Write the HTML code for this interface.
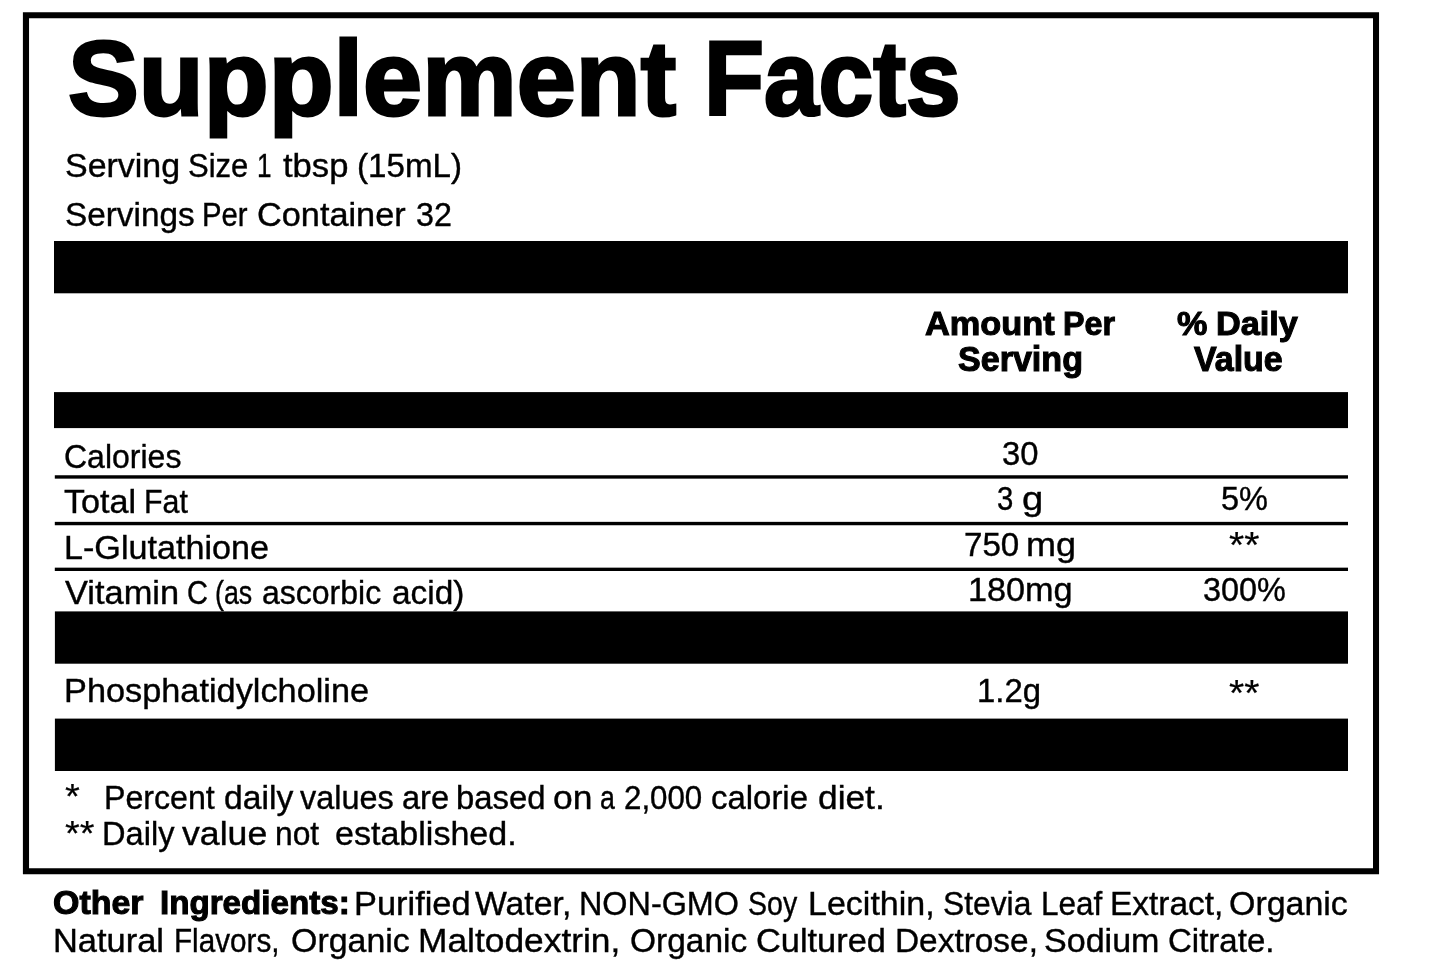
<!DOCTYPE html>
<html lang="en">
<head>
<meta charset="utf-8">
<title>Supplement Facts</title>
<style>
html,body{margin:0;padding:0;background:#fff;}
body{width:1445px;height:973px;position:relative;overflow:hidden;font-family:"Liberation Sans",sans-serif;color:#000;}
.t{position:absolute;white-space:nowrap;line-height:1;transform-origin:0 0;font-weight:400;}
.b .t,.t.b{font-weight:700;}
.ln{position:absolute;left:0;width:0;height:0;margin:0;white-space:nowrap;line-height:1;font-weight:400;-webkit-text-stroke-color:#000;}
.ln.b{font-weight:700;}
.ln span{position:absolute;top:0;transform-origin:0 0;}
.shapes{position:absolute;left:0;top:0;display:block;}
</style>
</head>
<body>
<svg class="shapes" width="1445" height="973" viewBox="0 0 1445 973" aria-hidden="true">
<path fill="#000" fill-rule="evenodd" d="M22.9 12.25H1379.05V874.3H22.9Z M29.05 18.3V868.3H1373V18.3Z"/>
<rect x="54" y="241" width="1294" height="52.3"/>
<rect x="54" y="392.1" width="1294" height="36"/>
<rect x="54.8" y="475.25" width="1293.2" height="3.4"/>
<rect x="54.8" y="521.85" width="1293.2" height="3.4"/>
<rect x="54.8" y="567.65" width="1293.2" height="3.35"/>
<rect x="54.9" y="611.4" width="1293.1" height="52.3"/>
<rect x="54.9" y="718.6" width="1293.1" height="52.4"/>
</svg>
<h1 id="title" class="ln b" style="top:25.82px;font-size:105.73px;-webkit-text-stroke-width:2.96px"><span style="left:67.75px;transform:scaleX(1.0051)">Supplement</span> <span style="left:704.09px;transform:scaleX(0.9289)">Facts</span></h1>
<div id="ss1" class="ln" style="top:150.10px;font-size:32.56px;-webkit-text-stroke-width:0.39px"><span style="left:64.50px;transform:scaleX(1.0432)">Serving</span> <span style="left:187.93px;transform:scaleX(0.9529)">Size</span> <span style="left:256.68px;transform:scaleX(0.8018)">1</span> <span style="left:282.90px;transform:scaleX(1.0628)">tbsp</span> <span style="left:356.92px;transform:scaleX(1.0180)">(15mL)</span></div>
<div id="ss2" class="ln" style="top:198.60px;font-size:32.56px;-webkit-text-stroke-width:0.39px"><span style="left:64.53px;transform:scaleX(1.0239)">Servings</span> <span style="left:201.64px;transform:scaleX(0.9003)">Per</span> <span style="left:257.00px;transform:scaleX(1.0536)">Container</span> <span style="left:415.63px;transform:scaleX(0.9906)">32</span></div>
<div id="h1a" class="ln b" style="top:306.76px;font-size:33.89px;-webkit-text-stroke-width:1.08px"><span style="left:924.66px;transform:scaleX(1.0132)">Amount</span> <span style="left:1063.06px;transform:scaleX(0.9525)">Per</span></div>
<div id="h1b" class="ln b" style="top:341.55px;font-size:34.17px;-webkit-text-stroke-width:1.09px"><span style="left:958.02px;transform:scaleX(0.9974)">Serving</span></div>
<div id="h2a" class="ln b" style="top:306.76px;font-size:33.89px;-webkit-text-stroke-width:1.08px"><span style="left:1177.08px;transform:scaleX(1.0090)">%</span> <span style="left:1215.85px;transform:scaleX(1.0117)">Daily</span></div>
<div id="h2b" class="ln b" style="top:341.55px;font-size:34.17px;-webkit-text-stroke-width:1.09px"><span style="left:1194.42px;transform:scaleX(0.9933)">Value</span></div>
<div id="r1" class="ln" style="top:441.20px;font-size:32.56px;-webkit-text-stroke-width:0.39px"><span style="left:64.40px;transform:scaleX(0.9833)">Calories</span></div>
<div id="r1v" class="ln" style="top:438.40px;font-size:32.70px;-webkit-text-stroke-width:0.39px"><span style="left:1001.60px;transform:scaleX(1.0024)">30</span></div>
<div id="r2" class="ln" style="top:486.00px;font-size:32.56px;-webkit-text-stroke-width:0.39px"><span style="left:64.33px;transform:scaleX(1.0497)">Total</span> <span style="left:143.76px;transform:scaleX(0.9334)">Fat</span></div>
<div id="r2v" class="ln" style="top:483.20px;font-size:32.70px;-webkit-text-stroke-width:0.39px"><span style="left:997.24px;transform:scaleX(0.8967)">3</span> <span style="left:1022.02px;transform:scaleX(1.1670)">g</span></div>
<div id="r2p" class="ln" style="top:483.20px;font-size:32.70px;-webkit-text-stroke-width:0.39px"><span style="left:1220.89px;transform:scaleX(0.9943)">5%</span></div>
<div id="r3" class="ln" style="top:531.70px;font-size:32.56px;-webkit-text-stroke-width:0.39px"><span style="left:64.08px;transform:scaleX(1.0486)">L-Glutathione</span></div>
<div id="r3v" class="ln" style="top:528.80px;font-size:32.70px;-webkit-text-stroke-width:0.39px"><span style="left:963.68px;transform:scaleX(1.0132)">750</span> <span style="left:1026.18px;transform:scaleX(1.1020)">mg</span></div>
<div id="s3" class="ln" style="top:525.77px;font-size:34.00px;-webkit-text-stroke-width:0.20px"><span style="left:1229.30px;transform:scale(1.1504,1.0882)">**</span></div>
<div id="r4" class="ln" style="top:577.30px;font-size:32.56px;-webkit-text-stroke-width:0.39px"><span style="left:65.22px;transform:scaleX(1.0569)">Vitamin</span> <span style="left:186.83px;transform:scaleX(0.8912)">C</span> <span style="left:214.78px;transform:scaleX(0.8225)">(as</span> <span style="left:261.55px;transform:scaleX(0.9831)">ascorbic</span> <span style="left:391.50px;transform:scaleX(1.0262)">acid)</span></div>
<div id="r4v" class="ln" style="top:573.60px;font-size:32.70px;-webkit-text-stroke-width:0.39px"><span style="left:968.43px;transform:scaleX(1.0468)">180mg</span></div>
<div id="r4p" class="ln" style="top:573.60px;font-size:32.70px;-webkit-text-stroke-width:0.39px"><span style="left:1202.72px;transform:scaleX(0.9915)">300%</span></div>
<div id="r5" class="ln" style="top:674.60px;font-size:32.56px;-webkit-text-stroke-width:0.39px"><span style="left:64.07px;transform:scaleX(1.0540)">Phosphatidylcholine</span></div>
<div id="r5v" class="ln" style="top:674.60px;font-size:32.70px;-webkit-text-stroke-width:0.39px"><span style="left:977.42px;transform:scaleX(1.0053)">1.2g</span></div>
<div id="s5" class="ln" style="top:675.01px;font-size:34.00px;-webkit-text-stroke-width:0.20px"><span style="left:1229.46px;transform:scale(1.1504,1.0796)">**</span></div>
<div id="sf1" class="ln" style="top:777.48px;font-size:34.00px;-webkit-text-stroke-width:0.20px"><span style="left:65.14px;transform:scale(1.1225,1.0582)">*</span></div>
<div id="f1" class="ln" style="top:781.51px;font-size:32.43px;-webkit-text-stroke-width:0.39px"><span style="left:103.73px;transform:scaleX(0.9917)">Percent</span> <span style="left:223.60px;transform:scaleX(1.0390)">daily</span> <span style="left:300.26px;transform:scaleX(0.9995)">values</span> <span style="left:401.52px;transform:scaleX(1.0046)">are</span> <span style="left:455.59px;transform:scaleX(1.0139)">based</span> <span style="left:553.22px;transform:scaleX(1.0927)">on</span> <span style="left:599.65px;transform:scaleX(0.8247)">a</span> <span style="left:624.18px;transform:scaleX(0.9647)">2,000</span> <span style="left:711.31px;transform:scaleX(1.0154)">calorie</span> <span style="left:817.63px;transform:scaleX(1.0886)">diet.</span></div>
<div id="sf2" class="ln" style="top:814.48px;font-size:34.00px;-webkit-text-stroke-width:0.20px"><span style="left:65.12px;transform:scale(1.1146,1.0539)">**</span></div>
<div id="f2" class="ln" style="top:817.61px;font-size:32.43px;-webkit-text-stroke-width:0.39px"><span style="left:102.40px;transform:scaleX(1.0049)">Daily</span> <span style="left:182.44px;transform:scaleX(1.0998)">value</span> <span style="left:275.14px;transform:scaleX(0.9802)">not</span> <span style="left:334.67px;transform:scaleX(1.0497)">established.</span></div>
<div id="o1" class="ln b" style="top:886.47px;font-size:33.33px;-webkit-text-stroke-width:1.07px"><span style="left:52.74px;transform:scaleX(1.0186)">Other</span> <span style="left:160.31px;transform:scaleX(0.9948)">Ingredients:</span></div>
<div id="o2" class="ln" style="top:888.00px;font-size:32.70px;-webkit-text-stroke-width:0.39px"><span style="left:354.36px;transform:scaleX(1.0519)">Purified</span> <span style="left:475.45px;transform:scaleX(1.0323)">Water,</span> <span style="left:578.81px;transform:scaleX(0.9898)">NON-GMO</span> <span style="left:747.82px;transform:scaleX(0.8728)">Soy</span> <span style="left:808.09px;transform:scaleX(1.0405)">Lecithin,</span> <span style="left:942.68px;transform:scaleX(0.9727)">Stevia</span> <span style="left:1041.28px;transform:scaleX(0.9627)">Leaf</span> <span style="left:1110.24px;transform:scaleX(1.0220)">Extract,</span> <span style="left:1229.20px;transform:scaleX(1.0378)">Organic</span></div>
<div id="o3" class="ln" style="top:924.60px;font-size:32.70px;-webkit-text-stroke-width:0.39px"><span style="left:52.76px;transform:scaleX(1.0534)">Natural</span> <span style="left:173.61px;transform:scaleX(0.9073)">Flavors,</span> <span style="left:290.60px;transform:scaleX(1.0378)">Organic</span> <span style="left:418.19px;transform:scaleX(1.0812)">Maltodextrin,</span> <span style="left:629.62px;transform:scaleX(1.0235)">Organic</span> <span style="left:755.91px;transform:scaleX(1.0513)">Cultured</span> <span style="left:894.54px;transform:scaleX(1.0218)">Dextrose,</span> <span style="left:1044.19px;transform:scaleX(1.0417)">Sodium</span> <span style="left:1168.37px;transform:scaleX(1.0100)">Citrate.</span></div>
</body>
</html>
